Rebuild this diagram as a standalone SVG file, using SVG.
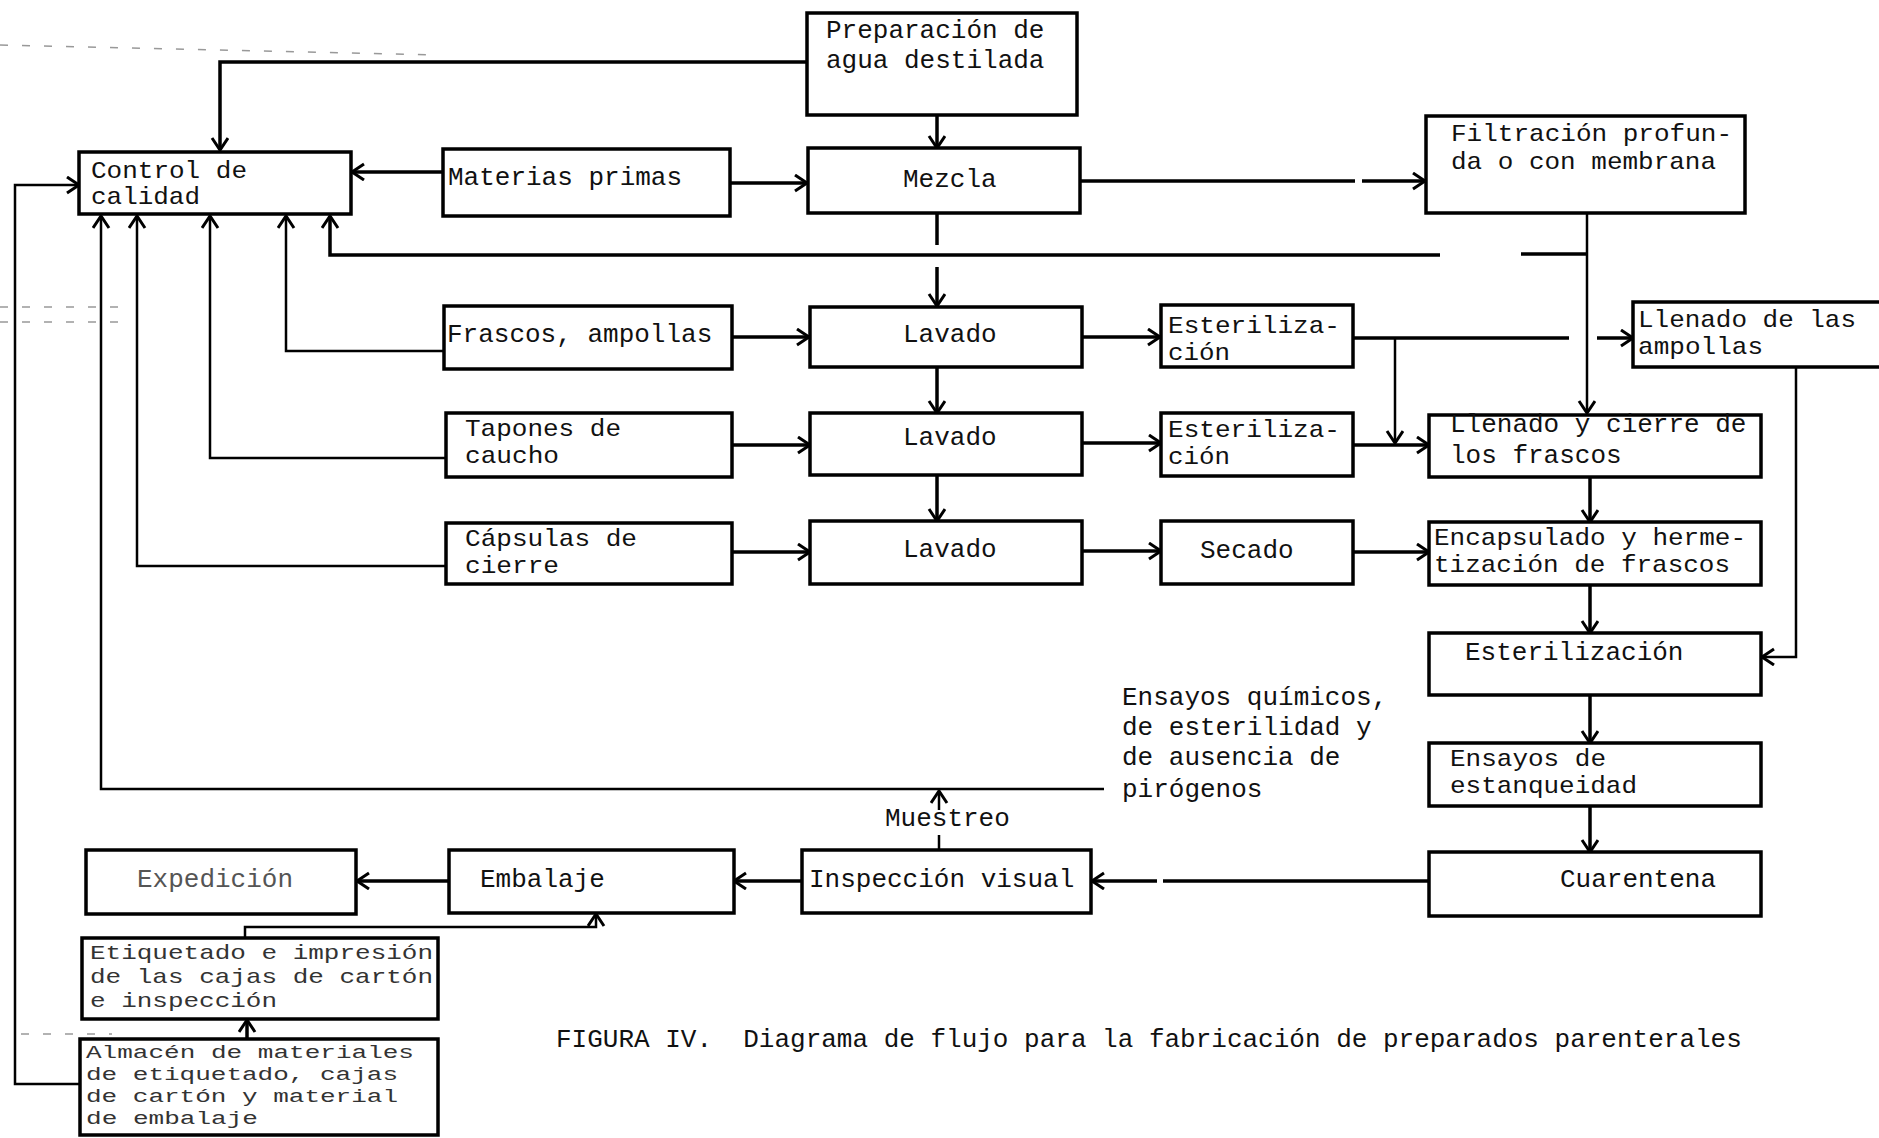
<svg xmlns="http://www.w3.org/2000/svg" width="1879" height="1138" viewBox="0 0 1879 1138">
<style>
.bx{fill:#fff;stroke:#000;stroke-width:3.5}
.t{font-family:"Liberation Mono","DejaVu Sans Mono",monospace;font-size:26px;fill:#111}
.s{font-size:24px}
.s2{font-size:21px}
.s3{font-size:19px}
.f{fill:#555}
.g{fill:#333}
.c path{fill:none;stroke:#000;stroke-width:3.5}
.c path.th{stroke-width:2.5}
.c path.a{marker-end:url(#ar)}
.art{fill:none;stroke:#999;stroke-width:1.5;stroke-dasharray:8 14}
</style>
<defs>
<marker id="ar" markerUnits="userSpaceOnUse" markerWidth="18" markerHeight="20" refX="14" refY="9" orient="auto">
<path d="M2,1 L14,9 L2,17" fill="none" stroke="#000" stroke-width="3"/>
</marker>
</defs>
<rect width="1879" height="1138" fill="#fff"/>
<g id="artifacts">
<path class="art" d="M0,45 L435,55"/>
<path class="art" d="M0,307 L126,307 M0,322 L126,322"/>
<path class="art" d="M21,1034 L112,1034"/>
</g>
<g id="connectors" class="c">
<path class="a" d="M807,62 H220 V150"/>
<path class="a" d="M937,115 V148"/>
<path class="a" d="M443,172 H352"/>
<path class="a" d="M730,183 H807"/>
<path d="M1080,181 H1355"/>
<path class="a" d="M1362,181 H1425"/>
<path d="M937,213 V245"/>
<path class="a" d="M937,267 V306"/>
<path class="th a" d="M1587,213 V413"/>
<path d="M1521,254 H1587"/>
<path class="a" d="M1440,255 H330 V216"/>
<path class="th a" d="M444,351 H286 V216"/>
<path class="th a" d="M446,458 H210 V216"/>
<path class="th a" d="M446,566 H137 V216"/>
<path class="th a" d="M1104,789 H101 V216"/>
<path class="th a" d="M79,1084 H15 V185 H79"/>
<path class="a" d="M732,337 H809"/>
<path class="a" d="M1082,337 H1160"/>
<path d="M1353,338 H1569"/>
<path class="a" d="M1597,338 H1633"/>
<path class="th a" d="M1395,338 V443"/>
<path class="a" d="M937,367 V413"/>
<path class="a" d="M732,445 H810"/>
<path class="a" d="M1082,443 H1161"/>
<path class="a" d="M1353,445 H1429"/>
<path class="a" d="M937,475 V521"/>
<path class="a" d="M732,552 H810"/>
<path class="a" d="M1082,551 H1161"/>
<path class="a" d="M1353,552 H1429"/>
<path class="a" d="M1590,477 V522"/>
<path class="a" d="M1590,585 V633"/>
<path class="th a" d="M1796,367 V657 H1762"/>
<path class="a" d="M1590,695 V743"/>
<path class="a" d="M1590,806 V852"/>
<path d="M1429,881 H1163"/>
<path class="a" d="M1157,881 H1092"/>
<path class="th" d="M939,850 V835"/>
<path class="th a" d="M939,810 V791"/>
<path class="a" d="M802,881 H734"/>
<path class="a" d="M449,881 H357"/>
<path class="th a" d="M245,938 V927 H596 V914"/>
<path class="a" d="M247,1039 V1020"/>
</g>
<g id="n-preparacion"><rect class="bx" x="807" y="13" width="270" height="102"/><text class="t" x="826" y="38">Preparación de</text><text class="t" x="826" y="68">agua destilada</text></g>
<g id="n-control"><rect class="bx" x="79" y="152" width="272" height="62"/><text class="t s" x="91" y="178" textLength="156" lengthAdjust="spacingAndGlyphs">Control de</text><text class="t s" x="91" y="204" textLength="109" lengthAdjust="spacingAndGlyphs">calidad</text></g>
<g id="n-materias"><rect class="bx" x="443" y="149" width="287" height="67"/><text class="t" x="448" y="185">Materias primas</text></g>
<g id="n-mezcla"><rect class="bx" x="808" y="148" width="272" height="65"/><text class="t" x="903" y="187">Mezcla</text></g>
<g id="n-filtracion"><rect class="bx" x="1426" y="116" width="319" height="97"/><text class="t s" x="1451" y="141" textLength="281" lengthAdjust="spacingAndGlyphs">Filtración profun-</text><text class="t s" x="1451" y="169" textLength="265" lengthAdjust="spacingAndGlyphs">da o con membrana</text></g>
<g id="n-frascos"><rect class="bx" x="444" y="306" width="288" height="63"/><text class="t" x="447" y="342">Frascos, ampollas</text></g>
<g id="n-lavado1"><rect class="bx" x="810" y="307" width="272" height="60"/><text class="t" x="903" y="342">Lavado</text></g>
<g id="n-ester1"><rect class="bx" x="1161" y="305" width="192" height="62"/><text class="t s" x="1168" y="333" textLength="172" lengthAdjust="spacingAndGlyphs">Esteriliza-</text><text class="t s" x="1168" y="360" textLength="62" lengthAdjust="spacingAndGlyphs">ción</text></g>
<g id="n-ampollas"><rect class="bx" x="1633" y="302" width="270" height="65"/><text class="t s" x="1638" y="327" textLength="218" lengthAdjust="spacingAndGlyphs">Llenado de las</text><text class="t s" x="1638" y="354" textLength="125" lengthAdjust="spacingAndGlyphs">ampollas</text></g>
<g id="n-tapones"><rect class="bx" x="446" y="413" width="286" height="64"/><text class="t s" x="465" y="436" textLength="156" lengthAdjust="spacingAndGlyphs">Tapones de</text><text class="t s" x="465" y="463" textLength="94" lengthAdjust="spacingAndGlyphs">caucho</text></g>
<g id="n-lavado2"><rect class="bx" x="810" y="413" width="272" height="62"/><text class="t" x="903" y="445">Lavado</text></g>
<g id="n-ester2"><rect class="bx" x="1161" y="413" width="192" height="63"/><text class="t s" x="1168" y="437" textLength="172" lengthAdjust="spacingAndGlyphs">Esteriliza-</text><text class="t s" x="1168" y="464" textLength="62" lengthAdjust="spacingAndGlyphs">ción</text></g>
<g id="n-llenado"><rect class="bx" x="1429" y="415" width="332" height="62"/><text class="t" x="1450" y="432">Llenado y cierre de</text><text class="t" x="1450" y="463">los frascos</text></g>
<g id="n-capsulas"><rect class="bx" x="446" y="523" width="286" height="61"/><text class="t s" x="465" y="546" textLength="172" lengthAdjust="spacingAndGlyphs">Cápsulas de</text><text class="t s" x="465" y="573" textLength="94" lengthAdjust="spacingAndGlyphs">cierre</text></g>
<g id="n-lavado3"><rect class="bx" x="810" y="521" width="272" height="63"/><text class="t" x="903" y="557">Lavado</text></g>
<g id="n-secado"><rect class="bx" x="1161" y="521" width="192" height="63"/><text class="t" x="1200" y="558">Secado</text></g>
<g id="n-encapsulado"><rect class="bx" x="1429" y="522" width="332" height="63"/><text class="t s" x="1434" y="545" textLength="312" lengthAdjust="spacingAndGlyphs">Encapsulado y herme-</text><text class="t s" x="1434" y="572" textLength="296" lengthAdjust="spacingAndGlyphs">tización de frascos</text></g>
<g id="n-esterilizacion"><rect class="bx" x="1429" y="633" width="332" height="62"/><text class="t" x="1465" y="660">Esterilización</text></g>
<g id="n-ensayos"><rect class="bx" x="1429" y="743" width="332" height="63"/><text class="t s" x="1450" y="766" textLength="156" lengthAdjust="spacingAndGlyphs">Ensayos de</text><text class="t s" x="1450" y="793" textLength="187" lengthAdjust="spacingAndGlyphs">estanqueidad</text></g>
<g id="n-cuarentena"><rect class="bx" x="1429" y="852" width="332" height="64"/><text class="t" x="1560" y="887">Cuarentena</text></g>
<g id="n-inspeccion"><rect class="bx" x="802" y="850" width="289" height="63"/><text class="t" x="809" y="887">Inspección visual</text></g>
<g id="n-embalaje"><rect class="bx" x="449" y="850" width="285" height="63"/><text class="t" x="480" y="887">Embalaje</text></g>
<g id="n-expedicion"><rect class="bx" x="86" y="850" width="270" height="64"/><text class="t f" x="137" y="887">Expedición</text></g>
<g id="n-etiquetado"><rect class="bx" x="82" y="938" width="356" height="81"/><text class="t g s2" x="90" y="959" textLength="343" lengthAdjust="spacingAndGlyphs">Etiquetado e impresión</text><text class="t g s2" x="90" y="983" textLength="343" lengthAdjust="spacingAndGlyphs">de las cajas de cartón</text><text class="t g s2" x="90" y="1007" textLength="187" lengthAdjust="spacingAndGlyphs">e inspección</text></g>
<g id="n-almacen"><rect class="bx" x="80" y="1039" width="358" height="96"/><text class="t g s3" x="86" y="1058" textLength="328" lengthAdjust="spacingAndGlyphs">Almacén de materiales</text><text class="t g s3" x="86" y="1080" textLength="312" lengthAdjust="spacingAndGlyphs">de etiquetado, cajas</text><text class="t g s3" x="86" y="1102" textLength="312" lengthAdjust="spacingAndGlyphs">de cartón y material</text><text class="t g s3" x="86" y="1124" textLength="172" lengthAdjust="spacingAndGlyphs">de embalaje</text></g>
<g id="labels">
<text class="t" x="885" y="826">Muestreo</text>
<text class="t" x="1122" y="705">Ensayos químicos,</text>
<text class="t" x="1122" y="735">de esterilidad y</text>
<text class="t" x="1122" y="765">de ausencia de</text>
<text class="t" x="1122" y="797">pirógenos</text>
<text class="t" x="556" y="1047" xml:space="preserve">FIGURA IV.  Diagrama de flujo para la fabricación de preparados parenterales</text>
</g>
</svg>
